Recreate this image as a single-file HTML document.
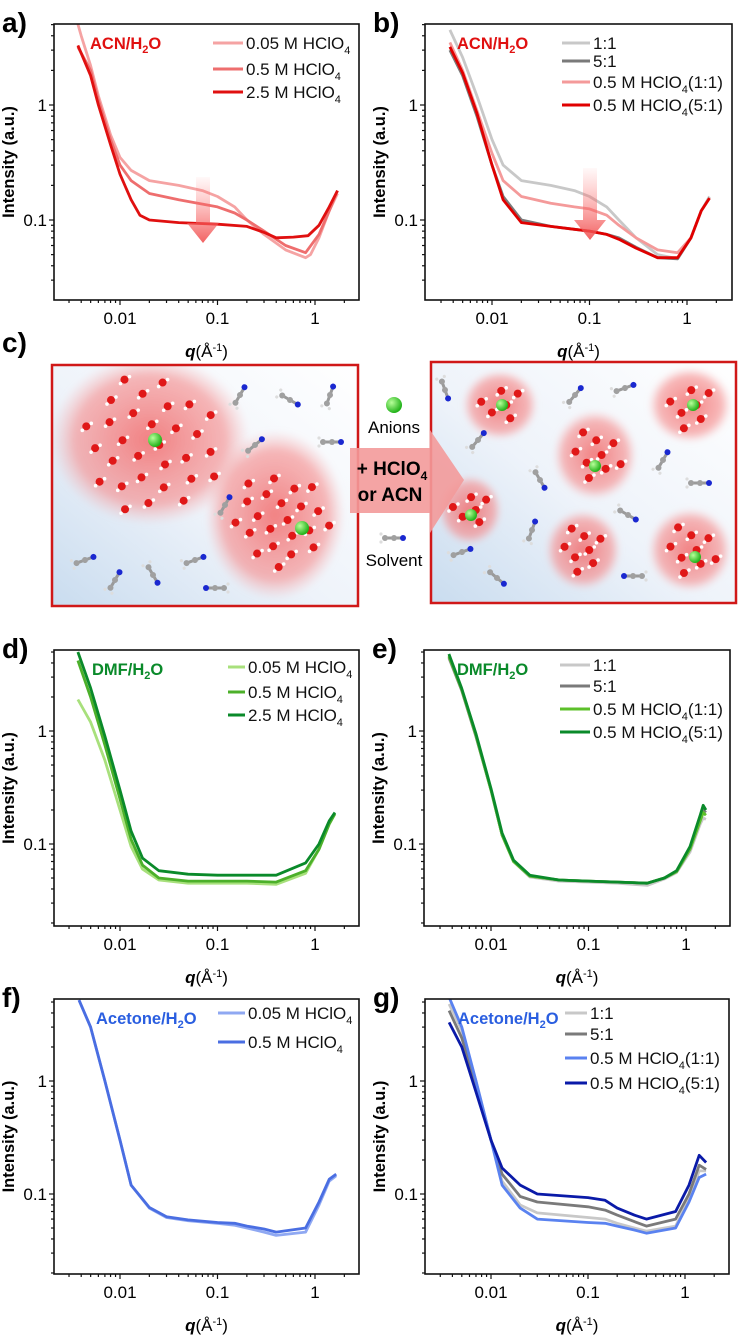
<!DOCTYPE html>
<html><head><meta charset="utf-8">
<style>
html,body{margin:0;padding:0;background:#fff;}
svg{display:block;font-family:"Liberation Sans",Arial,sans-serif;}
</style></head>
<body>
<svg id="fig" width="749" height="1335" viewBox="0 0 749 1335" xmlns="http://www.w3.org/2000/svg">
<defs>
  <linearGradient id="arrowGrad" x1="0" y1="0" x2="0" y2="1">
    <stop offset="0" stop-color="#ff8080" stop-opacity="0.05"/>
    <stop offset="1" stop-color="#f05050" stop-opacity="0.9"/>
  </linearGradient>
  <linearGradient id="boxBg" x1="0" y1="1" x2="1" y2="0">
    <stop offset="0" stop-color="#c9dcef"/>
    <stop offset="0.45" stop-color="#eef3fa"/>
    <stop offset="1" stop-color="#ffffff"/>
  </linearGradient>
  <radialGradient id="blob" cx="0.5" cy="0.5" r="0.5">
    <stop offset="0" stop-color="#f25a5a" stop-opacity="0.75"/>
    <stop offset="0.75" stop-color="#f58a8a" stop-opacity="0.6"/>
    <stop offset="1" stop-color="#f8b0b0" stop-opacity="0"/>
  </radialGradient>
  <radialGradient id="green" cx="0.35" cy="0.35" r="0.65">
    <stop offset="0" stop-color="#b8ff9a"/><stop offset="1" stop-color="#22b21a"/>
  </radialGradient>
  <filter id="blur3"><feGaussianBlur stdDeviation="3"/></filter>
  <clipPath id="clipBoxL"><rect x="52" y="365" width="306" height="241"/></clipPath>
  <clipPath id="clipBoxR"><rect x="431" y="362" width="305" height="241"/></clipPath>
</defs>
<g id="plots"></g>
<g id="scheme"></g>
</svg>
<script>
// ---------------- DATA ----------------
// panel a (ACN/H2O)
const qA005 = [0.0036,0.004,0.005,0.006,0.008,0.01,0.013,0.02,0.04,0.07,0.1,0.15,0.2,0.3,0.5,0.8,0.9,1.1,1.4,1.7];
const iA005 = [5.5,4.0,2.2,1.2,0.55,0.35,0.27,0.22,0.2,0.18,0.16,0.13,0.1,0.075,0.055,0.047,0.05,0.07,0.12,0.17];
const qA05 = [0.0037,0.005,0.006,0.008,0.01,0.013,0.02,0.04,0.1,0.15,0.2,0.3,0.5,0.8,1.1,1.4,1.7];
const iA05 = [3.2,2.0,1.1,0.5,0.3,0.22,0.17,0.15,0.13,0.115,0.1,0.08,0.06,0.052,0.075,0.12,0.18];
const qA25 = [0.0037,0.005,0.006,0.008,0.01,0.013,0.016,0.02,0.04,0.1,0.2,0.3,0.4,0.6,0.85,1.1,1.4,1.7];
const iA25 = [3.3,1.8,1.0,0.45,0.25,0.15,0.11,0.1,0.095,0.092,0.088,0.078,0.07,0.071,0.073,0.09,0.13,0.18];
// panel b
const qB = [0.0037,0.005,0.007,0.01,0.013,0.02,0.04,0.07,0.1,0.15,0.2,0.3,0.5,0.8,1.1,1.4,1.7];
const iB11 = [4.5,2.6,1.2,0.5,0.3,0.22,0.2,0.18,0.16,0.13,0.1,0.07,0.05,0.046,0.07,0.12,0.16];
const iB51 = [3.0,1.8,0.8,0.3,0.16,0.1,0.088,0.083,0.08,0.075,0.07,0.058,0.047,0.046,0.07,0.12,0.155];
const iBH11 = [3.5,2.0,0.9,0.38,0.22,0.16,0.14,0.13,0.125,0.11,0.09,0.07,0.055,0.052,0.07,0.12,0.155];
const iBH51 = [3.2,1.9,0.85,0.3,0.15,0.095,0.088,0.083,0.08,0.075,0.068,0.057,0.047,0.047,0.07,0.12,0.155];
// panel d (DMF/H2O)
const qD = [0.0037,0.005,0.007,0.01,0.013,0.017,0.025,0.05,0.1,0.2,0.4,0.8,1.1,1.4,1.6];
const iD005 = [1.9,1.2,0.55,0.2,0.095,0.06,0.048,0.045,0.045,0.045,0.044,0.055,0.09,0.15,0.185];
const iD05 = [4.2,2.0,0.75,0.25,0.11,0.065,0.05,0.047,0.047,0.047,0.046,0.058,0.09,0.15,0.185];
const iD25 = [5.0,2.4,0.9,0.3,0.13,0.075,0.058,0.054,0.053,0.053,0.053,0.068,0.1,0.16,0.19];
// panel e
const qE = [0.0037,0.005,0.007,0.01,0.013,0.017,0.025,0.05,0.1,0.2,0.4,0.6,0.8,1.1,1.4,1.5,1.6];
const iE11 = [4.4,2.3,0.9,0.3,0.12,0.07,0.051,0.047,0.046,0.045,0.043,0.049,0.056,0.085,0.15,0.17,0.165];
const iE51 = [4.5,2.3,0.9,0.3,0.12,0.07,0.052,0.048,0.047,0.046,0.045,0.05,0.057,0.09,0.17,0.2,0.19];
const iEH11 = [4.6,2.35,0.92,0.3,0.12,0.07,0.052,0.048,0.047,0.046,0.045,0.05,0.057,0.09,0.16,0.19,0.18];
const iEH51 = [4.8,2.4,0.95,0.31,0.125,0.072,0.053,0.048,0.047,0.046,0.045,0.05,0.058,0.095,0.18,0.22,0.2];
// panel f (Acetone/H2O)
const qF = [0.0038,0.005,0.007,0.01,0.013,0.02,0.03,0.05,0.1,0.15,0.2,0.3,0.4,0.8,1.1,1.4,1.65];
const iF005 = [5.2,3.0,1.0,0.3,0.12,0.075,0.062,0.058,0.055,0.053,0.05,0.046,0.043,0.046,0.08,0.13,0.145];
const iF05 = [5.2,3.0,1.0,0.3,0.12,0.076,0.063,0.059,0.056,0.055,0.052,0.049,0.046,0.05,0.085,0.135,0.15];
// panel g
const qG = [0.0037,0.005,0.007,0.01,0.013,0.02,0.03,0.1,0.15,0.2,0.3,0.4,0.8,1.1,1.4,1.65];
const iG11 = [4.8,2.8,1.0,0.3,0.13,0.08,0.068,0.062,0.06,0.055,0.05,0.047,0.052,0.09,0.16,0.16];
const iG51 = [4.2,2.4,0.9,0.3,0.15,0.095,0.085,0.077,0.072,0.065,0.057,0.052,0.06,0.1,0.18,0.165];
const iGH11 = [5.5,3.0,1.0,0.3,0.12,0.075,0.06,0.056,0.055,0.052,0.048,0.045,0.05,0.085,0.14,0.15];
const iGH51 = [3.3,2.0,0.8,0.3,0.17,0.12,0.1,0.093,0.088,0.075,0.065,0.06,0.07,0.12,0.22,0.19];
// tick labels
const xTickVals = [0.01,0.1,1];
const xTickLabels = ["0.01","0.1","1"];
const yTickVals = [0.1,1];
const yTickLabels = ["0.1","1"];

// ---------------- DRAW ----------------
const NS = "http://www.w3.org/2000/svg";
const plots = document.getElementById("plots");
function mk(tag, attrs, parent){
  const e = document.createElementNS(NS, tag);
  for (const k in attrs) e.setAttribute(k, attrs[k]);
  (parent||plots).appendChild(e);
  return e;
}

const panels = [
  {id:"a", letter:"a)", L:54, R:359, T:24, B:300, x01:120, xdec:97.5, y1:105, ydec:115},
  {id:"b", letter:"b)", L:425, R:732, T:24, B:300, x01:492, xdec:97.5, y1:105, ydec:115},
  {id:"d", letter:"d)", L:54, R:359, T:650, B:926, x01:120, xdec:97.5, y1:731, ydec:113},
  {id:"e", letter:"e)", L:424, R:730, T:650, B:926, x01:491, xdec:97.5, y1:731, ydec:113},
  {id:"f", letter:"f)", L:54, R:359, T:999, B:1274, x01:120, xdec:97.5, y1:1081, ydec:113},
  {id:"g", letter:"g)", L:425, R:729, T:999, B:1274, x01:491, xdec:97, y1:1081, ydec:113}
];
function xs(p,q){ return p.x01 + p.xdec*Math.log10(q/0.01); }
function ys(p,v){ return p.y1 - p.ydec*Math.log10(v); }

const series = {
  a:[{q:qA005,v:iA005,c:"#f5a3a3",n:"0.05 M HClO4"},{q:qA05,v:iA05,c:"#ee6e6e",n:"0.5 M HClO4"},{q:qA25,v:iA25,c:"#e01010",n:"2.5 M HClO4"}],
  b:[{q:qB,v:iB11,c:"#c8c8c8",n:"1:1"},{q:qB,v:iB51,c:"#7a7a7a",n:"5:1"},{q:qB,v:iBH11,c:"#f49a9a",n:"0.5 M HClO4(1:1)"},{q:qB,v:iBH51,c:"#e00000",n:"0.5 M HClO4(5:1)"}],
  d:[{q:qD,v:iD005,c:"#a8e07c",n:"0.05 M HClO4"},{q:qD,v:iD05,c:"#4cb02a",n:"0.5 M HClO4"},{q:qD,v:iD25,c:"#0a8a2a",n:"2.5 M HClO4"}],
  e:[{q:qE,v:iE11,c:"#c8c8c8",n:"1:1"},{q:qE,v:iE51,c:"#7a7a7a",n:"5:1"},{q:qE,v:iEH11,c:"#5cc02a",n:"0.5 M HClO4(1:1)"},{q:qE,v:iEH51,c:"#0a8a2a",n:"0.5 M HClO4(5:1)"}],
  f:[{q:qF,v:iF005,c:"#8fa8f2",n:"0.05 M HClO4"},{q:qF,v:iF05,c:"#4a6ee2",n:"0.5 M HClO4"}],
  g:[{q:qG,v:iG11,c:"#c8c8c8",n:"1:1"},{q:qG,v:iG51,c:"#7a7a7a",n:"5:1"},{q:qG,v:iGH11,c:"#5a82f0",n:"0.5 M HClO4(1:1)"},{q:qG,v:iGH51,c:"#0a1aa8",n:"0.5 M HClO4(5:1)"}]
};
const solventLabel = {a:["ACN/H","#e01010",90],b:["ACN/H","#e01010",457],d:["DMF/H","#0a8a2a",92],e:["DMF/H","#0a8a2a",457],f:["Acetone/H","#2a5ee0",96],g:["Acetone/H","#2a5ee0",458]};
const legendPos = {
  a:{x1:213,x2:243,rows:[43,69,92]},
  b:{x1:562,x2:590,rows:[43,61,82,105]},
  d:{x1:228,x2:245,rows:[667,692,715]},
  e:{x1:560,x2:590,rows:[665,686,709,732]},
  f:{x1:218,x2:245,rows:[1013,1042]},
  g:{x1:565,x2:587,rows:[1013,1034,1058,1083]}
};

function legendText(g, x, y, name){
  const t = mk("text",{x:x,y:y+6,"font-size":"17","fill":"#111"},g);
  const m = name.match(/^(.*HClO)4(.*)$/);
  if (m){
    t.appendChild(document.createTextNode(m[1]));
    const s = mk("tspan",{dy:"5","font-size":"11"},t); s.textContent="4";
    const r = mk("tspan",{dy:"-5"},t); r.textContent=m[2];
  } else t.textContent = name;
  return t;
}

panels.forEach(p=>{
  const g = mk("g",{});
  
  
  const lt = mk("text",{x:p.L-52,y:p.T+8,"font-size":"28","font-weight":"bold"},g);
  
  
  lt.textContent = p.letter;
  const cid = "clip"+p.id;
  const cp = mk("clipPath",{id:cid},g);
  mk("rect",{x:p.L,y:p.T,width:p.R-p.L,height:p.B-p.T},cp);
  const sg = mk("g",{"clip-path":"url(#"+cid+")"},g);
  series[p.id].forEach((s,i)=>{
    let d="";
    s.q.forEach((q,j)=>{ d += (j?"L":"M")+xs(p,q).toFixed(1)+","+ys(p,s.v[j]).toFixed(1); });
    const path = mk("path",{d:d,fill:"none",stroke:s.c,"stroke-width":"2.8","stroke-linejoin":"round"},sg);
    
    
  });
  const fr = mk("rect",{x:p.L,y:p.T,width:p.R-p.L,height:p.B-p.T,fill:"none",stroke:"#111","stroke-width":"1.6"},g);
  
  
  const xa = mk("g",{},g);
  
  
  for (let e=-3;e<=0;e++){
    for (let k=1;k<=9;k++){
      const q = k*Math.pow(10,e);
      const x = xs(p,q);
      if (x<p.L||x>p.R) continue;
      mk("line",{x1:x,x2:x,y1:p.B,y2:p.B+(k===1?5:3),stroke:"#111","stroke-width":"1.2"},xa);
    }
  }
  xTickVals.forEach((v,i)=>{
    const t = mk("text",{x:xs(p,v),y:p.B+24,"font-size":"17","text-anchor":"middle"},xa);
    t.textContent = xTickLabels[i];
  });
  const xt = mk("text",{x:(p.L+p.R)/2,y:p.B+57,"font-size":"17","text-anchor":"middle","font-weight":"bold"},xa);
  
  
  const qi = mk("tspan",{"font-style":"italic"},xt); qi.textContent="q";
  const qr = mk("tspan",{"font-weight":"normal"},xt); qr.textContent="(Å";
  const qs = mk("tspan",{dy:"-6","font-size":"11","font-weight":"normal"},xt); qs.textContent="-1";
  const qc = mk("tspan",{dy:"6","font-weight":"normal"},xt); qc.textContent=")";
  const ya = mk("g",{},g);
  
  
  for (let e=-2;e<=0;e++){
    for (let k=1;k<=9;k++){
      const v = k*Math.pow(10,e);
      const y = ys(p,v);
      if (y<p.T||y>p.B) continue;
      mk("line",{x1:p.L,x2:p.L-(k===1?5:3),y1:y,y2:y,stroke:"#111","stroke-width":"1.2"},ya);
    }
  }
  yTickVals.forEach((v,i)=>{
    const t = mk("text",{x:p.L-7,y:ys(p,v)+6,"font-size":"17","text-anchor":"end"},ya);
    t.textContent = yTickLabels[i];
  });
  const yt = mk("text",{x:0,y:0,"font-size":"16.5","font-weight":"bold","text-anchor":"middle",transform:"translate("+(p.L-40)+","+((p.T+p.B)/2)+") rotate(-90)"},ya);
  
  
  yt.textContent = "Intensity (a.u.)";
  const sl = solventLabel[p.id];
  const st = mk("text",{x:sl[2],y:p.T+25,"font-size":"16.5","font-weight":"bold",fill:sl[1]},g);
  
  
  st.appendChild(document.createTextNode(sl[0]));
  const s2 = mk("tspan",{dy:"4","font-size":"11"},st); s2.textContent="2";
  const s3 = mk("tspan",{dy:"-4"},st); s3.textContent="O";
  const lp = legendPos[p.id];
  const lg = mk("g",{},g);
  
  
  series[p.id].forEach((s,i)=>{
    const e = mk("g",{},lg);
    
    
    const y = lp.rows[i];
    mk("line",{x1:lp.x1,x2:lp.x2,y1:y,y2:y,stroke:s.c,"stroke-width":"3"},e);
    legendText(e, lp.x2+3, y, s.n);
  });
});

function trendArrow(cx, y0, y1, name){
  const g = mk("g",{});
  
  
  const hy = y1-20;
  mk("path",{d:"M"+(cx-7)+","+y0+"L"+(cx+7)+","+y0+"L"+(cx+7)+","+hy+"L"+(cx+16)+","+hy+"L"+cx+","+y1+"L"+(cx-16)+","+hy+"L"+(cx-7)+","+hy+"Z",fill:"url(#arrowGrad)"},g);
}
trendArrow(203,177,243,'trend-arrow-a');
trendArrow(590,168,240,'trend-arrow-b');

// ---------------- SCHEME (panel c) ----------------
const sc = document.getElementById("scheme");
const cl = mk("text",{x:2,y:352,"font-size":"28","font-weight":"bold"},sc);


cl.textContent="c)";
function box(x,y,w,h,name){
  const r = mk("rect",{x:x,y:y,width:w,height:h,fill:"url(#boxBg)",stroke:"none"},sc);
  
  
}
box(52,365,306,241,'before-box');
box(431,362,305,241,'after-box');
const gL = mk("g",{"clip-path":"url(#clipBoxL)"},sc);
const gR = mk("g",{"clip-path":"url(#clipBoxR)"},sc);
function blob(par,cx,cy,rx,ry){
  mk("ellipse",{cx:cx,cy:cy,rx:rx,ry:ry,fill:"url(#blob)",filter:"url(#blur3)"},par);
}
blob(gL,150,440,100,85); blob(gL,275,515,70,85);
blob(gR,500,405,38,35); blob(gR,690,405,42,38); blob(gR,595,455,42,45);
blob(gR,470,510,32,35); blob(gR,583,550,38,40); blob(gR,690,550,42,42);
function water(par,x,y){
  mk("circle",{cx:x,cy:y,r:4,fill:"#e01818"},par);
  mk("circle",{cx:x+5,cy:y-3,r:1.8,fill:"#fff"},par);
  mk("circle",{cx:x-4,cy:y+4,r:1.8,fill:"#fff"},par);
}
function cluster(par,cx,cy,r,n){
  for (let k=0;k<n;k++){
    const a = k*2.399;
    const rr = r*Math.sqrt((k+0.5)/n);
    water(par,cx+rr*Math.cos(a), cy+rr*Math.sin(a));
  }
}
function anion(par,x,y,r){ mk("circle",{cx:x,cy:y,r:r||6,fill:"url(#green)"},par); }
function solvent(par,x,y,ang){
  const g = mk("g",{transform:"translate("+x+","+y+") rotate("+ang+")"},par);
  mk("line",{x1:-10,y1:0,x2:8,y2:0,stroke:"#9a9a9a","stroke-width":"3"},g);
  mk("circle",{cx:-9,cy:0,r:3,fill:"#a0a0a0"},g);
  mk("circle",{cx:0,cy:0,r:3,fill:"#a0a0a0"},g);
  mk("circle",{cx:9,cy:0,r:3,fill:"#1a28d0"},g);
  mk("circle",{cx:-13,cy:-4,r:1.6,fill:"#ddd"},g);
  mk("circle",{cx:-13,cy:4,r:1.6,fill:"#ddd"},g);
}
cluster(gL,150,445,72,30); anion(gL,155,440,7);
cluster(gL,280,520,50,22); anion(gL,302,528,7);
cluster(gR,500,405,22,6); anion(gR,502,405);
cluster(gR,690,405,25,7); anion(gR,693,405);
cluster(gR,595,455,28,9); anion(gR,595,466);
cluster(gR,470,510,20,6); anion(gR,471,515);
cluster(gR,583,550,25,8);
cluster(gR,690,550,28,9); anion(gR,695,557);
[[240,395,-60],[290,400,30],[330,395,-70],[255,445,-40],[332,442,0],[225,505,-60],[85,560,-20],[115,580,-60],[153,575,60],[195,560,-20],[215,588,180]].forEach(s=>solvent(gL,s[0],s[1],s[2]));
[[445,390,70],[575,395,-50],[625,388,-20],[478,440,-50],[540,480,60],[663,460,-60],[700,483,0],[628,515,30],[532,530,-70],[462,552,-20],[497,578,40],[633,576,180]].forEach(s=>solvent(gR,s[0],s[1],s[2]));
mk("rect",{x:52,y:365,width:306,height:241,fill:"none",stroke:"#d01818","stroke-width":"2.5"},sc);
mk("rect",{x:431,y:362,width:305,height:241,fill:"none",stroke:"#d01818","stroke-width":"2.5"},sc);
const ar = mk("path",{d:"M350,448L430,448L430,430L464,480L430,533L430,513L350,513Z",fill:"#f39a9a","fill-opacity":"0.9"},sc);


const at1 = mk("text",{x:392,y:475,"font-size":"19","font-weight":"bold","text-anchor":"middle"},sc);
at1.appendChild(document.createTextNode("+ HClO"));
const at1s = mk("tspan",{dy:"5","font-size":"12"},at1); at1s.textContent="4";
const at2 = mk("text",{x:390,y:501,"font-size":"19","font-weight":"bold","text-anchor":"middle"},sc);
at2.textContent="or ACN";
anion(sc,394,405,8);
const an = mk("text",{x:394,y:433,"font-size":"17","text-anchor":"middle"},sc);


an.textContent="Anions";
solvent(sc,394,538,0);
const sv = mk("text",{x:394,y:566,"font-size":"17","text-anchor":"middle"},sc);


sv.textContent="Solvent";
</script>
</body></html>
